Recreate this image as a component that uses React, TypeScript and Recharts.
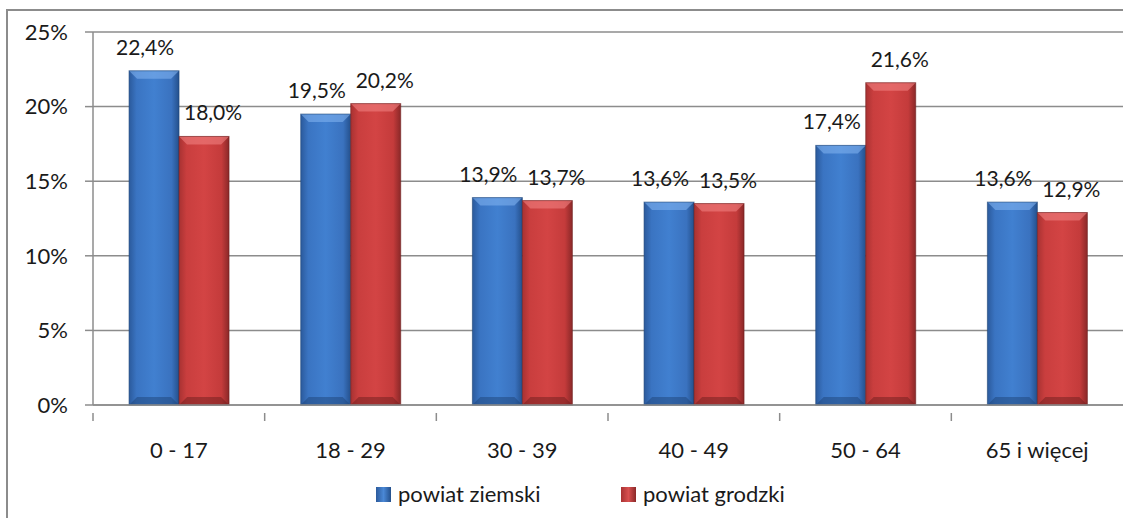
import { BarChart, Bar, XAxis, YAxis, CartesianGrid, LabelList } from 'recharts'

const categories = ['0 - 17', '18 - 29', '30 - 39', '40 - 49', '50 - 64', '65 i więcej']
const ziemski = [22.4, 19.5, 13.9, 13.6, 17.4, 13.6]
const grodzki = [18.0, 20.2, 13.7, 13.5, 21.6, 12.9]
const yTicks = [0, 5, 10, 15, 20, 25]

const data = categories.map((c, i) => ({ name: c, ziemski: ziemski[i], grodzki: grodzki[i] }))

const FONT = 'Lato, "Noto Sans", sans-serif'
const GRID = '#8c8c8c'
const CAT_W = 1030 / 6

const fmt = (v: number) => v.toFixed(1).replace('.', ',') + '%'

function BevelBar(props: any) {
  const { x, y, width, height, fill, light, dark } = props
  if (!height || height <= 0) return null
  const b = 8
  return (
    <g>
      <rect x={x} y={y} width={width} height={height} fill={fill} />
      <polygon points={`${x},${y} ${x + width},${y} ${x + width - b},${y + b} ${x + b},${y + b}`} fill={light} opacity={0.6} />
      <polygon points={`${x},${y + height} ${x + width},${y + height} ${x + width - b},${y + height - b} ${x + b},${y + height - b}`} fill={dark} opacity={0.5} />
      <rect x={x} y={y} width={width} height={height} fill="none" stroke={dark} strokeWidth={1} strokeOpacity={0.6} />
    </g>
  )
}

function XTick(props: any) {
  const { x, y, payload } = props
  const left = x - CAT_W / 2
  return (
    <g>
      <line x1={left} x2={left} y1={y} y2={y + 8} stroke={GRID} strokeWidth={1.5} />
      <text x={x} y={y + 45} textAnchor="middle" fontSize={22} fontFamily={FONT} fill="#1a1a1a">
        {payload.value}
      </text>
    </g>
  )
}

const labelStyle = { fontSize: 21, fontFamily: FONT, fill: '#1a1a1a' }

export default function App() {
  return (
    <div style={{ position: 'absolute', left: 0, top: 0, width: 1123, height: 518, background: '#fff', overflow: 'hidden' }}>
      <div style={{ position: 'absolute', left: 6, top: 9, width: 1140, height: 540, border: '2px solid #8c8c8c' }} />
      <BarChart
        width={1123}
        height={518}
        data={data}
        margin={{ top: 32, right: 0, left: 0, bottom: 0 }}
        barCategoryGap="21%"
        barGap={0}
        style={{ position: 'absolute', left: 0, top: 0 }}
      >
        <defs>
          <linearGradient id="gBlue" x1="0" y1="0" x2="1" y2="0">
            <stop offset="0%" stopColor="#2b5a9c" />
            <stop offset="15%" stopColor="#3a74c2" />
            <stop offset="50%" stopColor="#4180d0" />
            <stop offset="85%" stopColor="#3a72bf" />
            <stop offset="100%" stopColor="#24508c" />
          </linearGradient>
          <linearGradient id="gRed" x1="0" y1="0" x2="1" y2="0">
            <stop offset="0%" stopColor="#a83232" />
            <stop offset="15%" stopColor="#c93e3e" />
            <stop offset="50%" stopColor="#d34444" />
            <stop offset="85%" stopColor="#c43b3b" />
            <stop offset="100%" stopColor="#8a2828" />
          </linearGradient>
        </defs>
        <CartesianGrid vertical={false} stroke={GRID} strokeWidth={1.5} />
        <XAxis
          dataKey="name"
          height={113}
          axisLine={{ stroke: GRID, strokeWidth: 1.5 }}
          tickLine={false}
          tick={<XTick />}
          interval={0}
        />
        <YAxis
          domain={[0, 25]}
          ticks={yTicks}
          width={93}
          tickFormatter={(v: number) => `${v}%`}
          axisLine={{ stroke: GRID, strokeWidth: 1.5 }}
          tickLine={{ stroke: GRID, strokeWidth: 1.5 }}
          tickSize={8}
          tickMargin={17}
          tick={{ fontSize: 22, fontFamily: FONT, fill: '#1a1a1a' }}
        />
        <Bar
          dataKey="ziemski"
          fill="url(#gBlue)"
          isAnimationActive={false}
          shape={(p: any) => <BevelBar {...p} fill="url(#gBlue)" light="#7fb0ee" dark="#1d4477" />}
        >
          <LabelList dataKey="ziemski" position="top" offset={16} dx={-9} formatter={(v: any) => fmt(Number(v))} style={labelStyle} />
        </Bar>
        <Bar
          dataKey="grodzki"
          fill="url(#gRed)"
          isAnimationActive={false}
          shape={(p: any) => <BevelBar {...p} fill="url(#gRed)" light="#f08080" dark="#6e1e1e" />}
        >
          <LabelList dataKey="grodzki" position="top" offset={16} dx={9} formatter={(v: any) => fmt(Number(v))} style={labelStyle} />
        </Bar>
      </BarChart>
      <div style={{ position: 'absolute', top: 480, left: 0, width: 1123, fontFamily: FONT, fontSize: 22, color: '#1a1a1a' }}>
        <div style={{ position: 'absolute', left: 376, top: 7, width: 15, height: 15, background: 'linear-gradient(90deg,#2b5a9c,#4a88d6,#24508c)' }} />
        <div style={{ position: 'absolute', left: 398, top: 0 }}>powiat ziemski</div>
        <div style={{ position: 'absolute', left: 621, top: 7, width: 15, height: 15, background: 'linear-gradient(90deg,#a83232,#d85050,#8a2828)' }} />
        <div style={{ position: 'absolute', left: 643, top: 0 }}>powiat grodzki</div>
      </div>
    </div>
  )
}
